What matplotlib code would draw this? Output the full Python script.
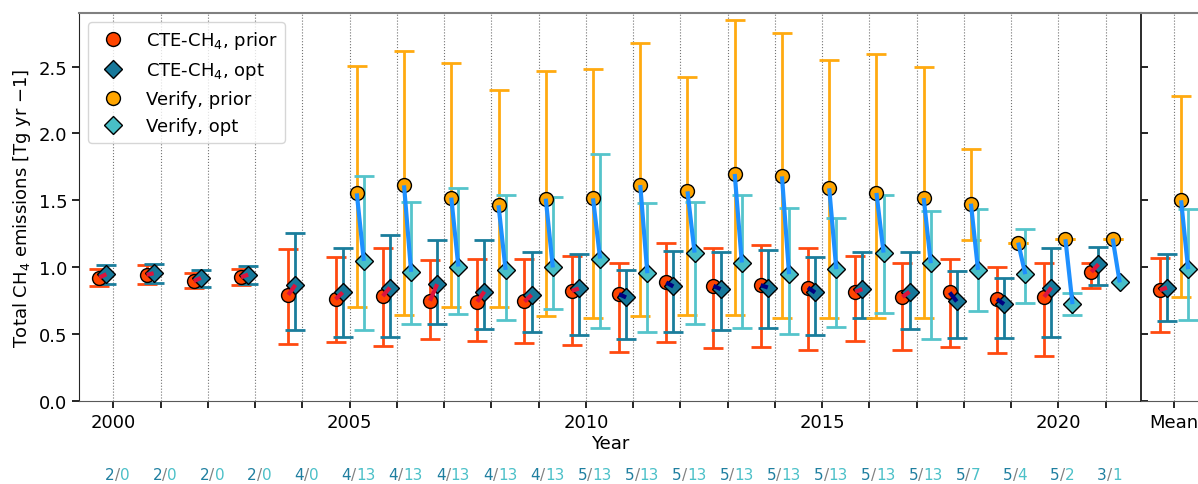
import matplotlib.pyplot as plt
import matplotlib.transforms as mtransforms
from matplotlib.lines import Line2D
import numpy as np

years = np.arange(2000, 2022)
nan = np.nan

# CTE-CH4 ensemble, prior and optimised (value, lower, upper)
cte_prior = [0.923, 0.943, 0.896, 0.925, 0.793, 0.761, 0.784, 0.749, 0.742, 0.744, 0.823,
             0.799, 0.886, 0.861, 0.866, 0.848, 0.816, 0.778, 0.811, 0.761, 0.778, 0.965]
cte_prior_lo = [0.858, 0.871, 0.846, 0.868, 0.425, 0.438, 0.410, 0.460, 0.450, 0.435, 0.420,
                0.363, 0.438, 0.395, 0.405, 0.381, 0.445, 0.383, 0.405, 0.358, 0.333, 0.846]
cte_prior_hi = [0.990, 1.015, 0.953, 0.990, 1.134, 1.077, 1.142, 1.055, 1.065, 1.060, 1.085,
                1.030, 1.181, 1.147, 1.164, 1.147, 1.085, 1.030, 1.060, 1.005, 1.035, 1.035]
cte_opt = [0.948, 0.955, 0.920, 0.945, 0.868, 0.811, 0.848, 0.873, 0.818, 0.793, 0.841,
           0.774, 0.856, 0.836, 0.848, 0.811, 0.836, 0.816, 0.744, 0.724, 0.848, 1.022]
cte_opt_lo = [0.878, 0.883, 0.853, 0.878, 0.527, 0.480, 0.475, 0.577, 0.537, 0.512, 0.493,
              0.463, 0.517, 0.532, 0.547, 0.495, 0.624, 0.537, 0.470, 0.468, 0.475, 0.866]
cte_opt_hi = [1.017, 1.025, 0.978, 1.012, 1.259, 1.147, 1.239, 1.206, 1.204, 1.117, 1.102,
              0.978, 1.122, 1.114, 1.127, 1.080, 1.117, 1.114, 0.970, 0.918, 1.147, 1.154]

# Verify ensemble (no data before 2005)
ver_prior = [nan] * 5 + [1.552, 1.612, 1.520, 1.463, 1.512, 1.515, 1.614, 1.567, 1.697,
                         1.679, 1.590, 1.555, 1.517, 1.475, 1.184, 1.209, 1.214]
ver_prior_lo = [nan] * 5 + [0.704, 0.642, 0.704, 0.706, 0.632, 0.624, 0.637, 0.644, 0.644,
                            0.622, 0.619, 0.617, 0.619, 1.201, 1.184, 1.209, 1.214]
ver_prior_hi = [nan] * 5 + [2.502, 2.619, 2.530, 2.323, 2.463, 2.483, 2.674, 2.423, 2.848,
                            2.754, 2.545, 2.594, 2.498, 1.883, 1.184, 1.209, 1.214]
ver_opt = [nan] * 5 + [1.047, 0.965, 1.005, 0.980, 0.998, 1.065, 0.955, 1.109, 1.035,
                       0.948, 0.985, 1.109, 1.030, 0.980, 0.948, 0.724, 0.886]
ver_opt_lo = [nan] * 5 + [0.532, 0.572, 0.649, 0.607, 0.689, 0.545, 0.515, 0.577, 0.545,
                          0.498, 0.555, 0.654, 0.463, 0.669, 0.729, 0.642, nan]
ver_opt_hi = [nan] * 5 + [1.681, 1.490, 1.590, 1.542, 1.525, 1.848, 1.483, 1.490, 1.540,
                          1.443, 1.366, 1.540, 1.418, 1.433, 1.284, 0.804, nan]

# means over the period: value, lower, upper
mean_cte_prior = [0.828, 0.512, 1.070]
mean_cte_opt = [0.848, 0.595, 1.097]
mean_ver_prior = [1.500, 0.781, 2.279]
mean_ver_opt = [0.985, 0.607, 1.433]

# number of ensemble members per year
n_cte = [2, 2, 2, 2, 4, 4, 4, 4, 4, 4, 5, 5, 5, 5, 5, 5, 5, 5, 5, 5, 5, 3]
n_ver = [0, 0, 0, 0, 0, 13, 13, 13, 13, 13, 13, 13, 13, 13, 13, 13, 13, 13, 7, 4, 2, 1]

c_cp, c_co = '#ff4500', '#17789a'
c_vp, c_vo = '#ffa500', '#48bfc7'
e_cp, e_co, e_vp, e_vo = '#ff4a10', '#1a7d9c', '#ffaa10', '#55c4cb'

fs = 13
plt.rcParams['font.size'] = fs

fig = plt.figure(figsize=(11.98, 4.85), dpi=100)
ax = fig.add_axes([79 / 1198, 83 / 485, 1062 / 1198, 388 / 485])
axm = fig.add_axes([1141 / 1198, 83 / 485, 66 / 1198, 388 / 485])


def draw(a, x, v, lo, hi, off, ecol, mcol, marker, ms):
    x = np.asarray(x, float) + off
    v, lo, hi = (np.atleast_1d(np.asarray(z, float)) for z in (v, lo, hi))
    a.errorbar(x, v, yerr=[v - lo, hi - v], fmt='none', ecolor=ecol, elinewidth=2,
               capsize=7, capthick=2, zorder=2)
    a.plot(x, v, ls='none', marker=marker, ms=ms, mfc=mcol, mec='k', mew=1, zorder=4)


def links(a, x, p, o, op, oo, up, down):
    for xi, pi, oi in zip(np.atleast_1d(x), np.atleast_1d(p), np.atleast_1d(o)):
        if np.isnan(pi) or np.isnan(oi):
            continue
        a.plot([xi + op, xi + oo], [pi, oi], color=up if oi > pi else down, lw=3,
               solid_capstyle='butt', zorder=5)


for yr in years:
    ax.axvline(yr, color='0.45', ls=':', lw=0.8, zorder=0)
axm.axvline(0, color='0.45', ls=':', lw=0.8, zorder=0)

draw(ax, years, cte_prior, cte_prior_lo, cte_prior_hi, -0.3, e_cp, c_cp, 'o', 10)
draw(ax, years, cte_opt, cte_opt_lo, cte_opt_hi, -0.15, e_co, c_co, 'D', 9)
draw(ax, years, ver_prior, ver_prior_lo, ver_prior_hi, 0.15, e_vp, c_vp, 'o', 10)
draw(ax, years, ver_opt, ver_opt_lo, ver_opt_hi, 0.3, e_vo, c_vo, 'D', 9)
links(ax, years, cte_prior, cte_opt, -0.3, -0.15, 'crimson', 'navy')
links(ax, years, ver_prior, ver_opt, 0.15, 0.3, 'dodgerblue', 'dodgerblue')

draw(axm, [0], *mean_cte_prior, -0.3, e_cp, c_cp, 'o', 10)
draw(axm, [0], *mean_cte_opt, -0.15, e_co, c_co, 'D', 9)
draw(axm, [0], *mean_ver_prior, 0.15, e_vp, c_vp, 'o', 10)
draw(axm, [0], *mean_ver_opt, 0.3, e_vo, c_vo, 'D', 9)
links(axm, [0], mean_cte_prior[0], mean_cte_opt[0], -0.3, -0.15, 'crimson', 'navy')
links(axm, [0], mean_ver_prior[0], mean_ver_opt[0], 0.15, 0.3, 'dodgerblue', 'dodgerblue')

ax.set_xlim(1999.27, 2021.75)
ax.set_ylim(0, 2.9)
ax.set_xticks(years)
ax.set_xticklabels([str(y) if y % 5 == 0 else '' for y in years])
ax.set_yticks(np.arange(0, 2.51, 0.5))
ax.tick_params(axis='both', labelsize=fs, length=5, width=1.2)
ax.set_xlabel('Year', fontsize=fs, labelpad=2)
ax.set_ylabel('Total CH$_4$ emissions [Tg yr $-1$]', fontsize=fs)
ax.spines['right'].set_visible(False)
ax.spines['top'].set_color('0.5')
ax.spines['top'].set_linewidth(1.5)
ax.spines['left'].set_color('0.15')
ax.spines['bottom'].set_color('0.35')

axm.set_xlim(-0.7, 0.7)
axm.set_ylim(0, 2.9)
axm.set_xticks([0])
axm.set_xticklabels(['Mean'])
axm.set_yticks(np.arange(0, 2.51, 0.5))
axm.tick_params(axis='y', direction='in', labelleft=False, length=5, width=1.2)
axm.tick_params(axis='x', labelsize=fs, length=5, width=1.2)
axm.spines['left'].set_color('0.1')
axm.spines['left'].set_linewidth(1.3)
axm.spines['top'].set_color('0.5')
axm.spines['top'].set_linewidth(1.5)
axm.spines['bottom'].set_color('0.35')

# member counts below the axis
trans = mtransforms.blended_transform_factory(ax.transData, ax.transAxes)
for yr, nc, nv in zip(years, n_cte, n_ver):
    t1 = ax.text(yr + 0.03, -0.19, str(nc), transform=trans, ha='right', va='center',
                 color='#1f7fa0', fontsize=11)
    t2 = ax.annotate('/', xy=(1, 0), xycoords=t1, ha='left', va='bottom',
                     color='0.5', fontsize=11)
    ax.annotate(str(nv), xy=(1, 0), xycoords=t2, ha='left', va='bottom',
                color='#4bc0c8', fontsize=11)

handles = [
    Line2D([], [], ls='none', marker='o', ms=10, mfc=c_cp, mec='k'),
    Line2D([], [], ls='none', marker='D', ms=9, mfc=c_co, mec='k'),
    Line2D([], [], ls='none', marker='o', ms=10, mfc=c_vp, mec='k'),
    Line2D([], [], ls='none', marker='D', ms=9, mfc=c_vo, mec='k'),
]
labels = ['CTE-CH$_4$, prior', 'CTE-CH$_4$, opt', 'Verify, prior', 'Verify, opt']
ax.legend(handles, labels, loc='upper left', fontsize=fs)

fig.savefig('out.png', dpi=100)
